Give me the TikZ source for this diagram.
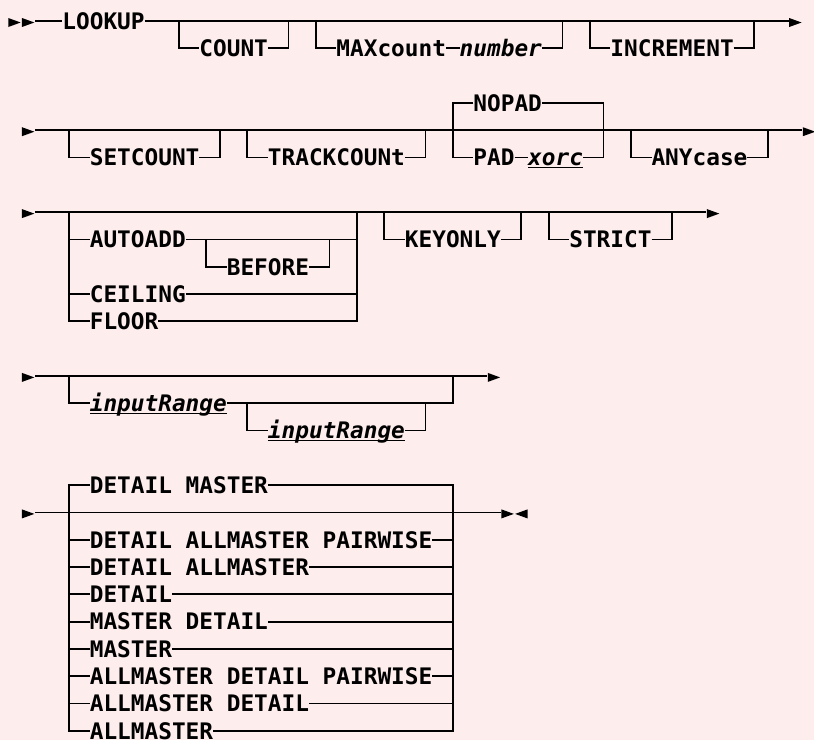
\documentclass[tikz,border=0pt]{standalone}
\usepackage{fontspec}
\setmonofont{DejaVu Sans Mono}
\usepackage{tikz}
\definecolor{bgpink}{RGB}{253,237,237}
\newcommand\dfltval[1]{\setbox0\hbox{#1}\rlap{\rule[-2.6pt]{\wd0}{1.5pt}}\box0}

\begin{document}
\begin{tikzpicture}[x=13.7pt, y=-27.3pt,
  kw/.style={anchor=west, inner sep=0pt, outer sep=0pt, text height=17.6pt, text depth=1pt,
    font=\ttfamily\bfseries\fontsize{22.76pt}{27.3pt}\selectfont},
  var/.style={kw, font=\ttfamily\bfseries\itshape\fontsize{22.76pt}{27.3pt}\selectfont},
  rail/.style={line width=1.8pt, line join=miter},
  rtri/.pic={\fill (-6.2pt,3pt) -- (6.2pt,-1.5pt) -- (-6.2pt,-6pt) -- cycle;},
  ltri/.pic={\fill (6.2pt,3pt) -- (-6.2pt,-1.5pt) -- (6.2pt,-6pt) -- cycle;}
]
  \useasboundingbox (-7.6pt,21pt) rectangle (806.4pt,-719pt);
  \fill[bgpink] (-7.6pt,21pt) rectangle (806.4pt,-719pt);

  % LOOKUP line
  \pic at (0.5,0) {rtri}; \pic at (1.5,0) {rtri};
  \node[kw] (lookup) at (4,0) {LOOKUP};
  \draw[rail] (2,0) -- (lookup) -- (57,0);
  \pic at (57.5,0) {rtri};
  \node[kw] (count) at (14,1) {COUNT};
  \draw[rail] (12.5,0) |- (count) -| (20.5,0);
  \node[kw] (maxc) at (24,1) {MAXcount};
  \node[var] (number) at (33,1) {number};
  \draw[rail] (22.5,0) |- (maxc) -- (number) -| (40.5,0);
  \node[kw] (incr) at (44,1) {INCREMENT};
  \draw[rail] (42.5,0) |- (incr) -| (54.5,0);

  % SETCOUNT line
  \pic at (1.5,4) {rtri};
  \draw[rail] (2,4) -- (58,4);
  \pic at (58.5,4) {rtri};
  \node[kw] (setcount) at (6,5) {SETCOUNT};
  \draw[rail] (4.5,4) |- (setcount) -| (15.5,4);
  \node[kw] (trackcount) at (19,5) {TRACKCOUNt};
  \draw[rail] (17.5,4) |- (trackcount) -| (30.5,4);
  \node[kw] (nopad) at (34,3) {NOPAD};
  \node[kw] (pad) at (34,5) {PAD};
  \node[var] (xorc) at (38,5) {\dfltval{xorc}};
  \draw[rail] (nopad) -| (32.5,5) -- (pad) -- (xorc) -| (43.5,3) -- (nopad);
  \node[kw] (anycase) at (47,5) {ANYcase};
  \draw[rail] (45.5,4) |- (anycase) -| (55.5,4);

  % AUTOADD line
  \pic at (1.5,7) {rtri};
  \draw[rail] (2,7) -- (51,7);
  \pic at (51.5,7) {rtri};
  \node[kw] (autoadd) at (6,8) {AUTOADD};
  \node[kw] (before) at (16,9) {BEFORE};
  \node[kw] (ceiling) at (6,10) {CEILING};
  \node[kw] (floor) at (6,11) {FLOOR};
  \draw[rail] (4.5,7) |- (floor) -| (25.5,7);
  \draw[rail] (4.5,8) -- (autoadd) -- (25.5,8);
  \draw[rail] (4.5,10) -- (ceiling) -- (25.5,10);
  \draw[rail] (14.5,8) |- (before) -| (23.5,8);
  \node[kw] (keyonly) at (29,8) {KEYONLY};
  \draw[rail] (27.5,7) |- (keyonly) -| (37.5,7);
  \node[kw] (strict) at (41,8) {STRICT};
  \draw[rail] (39.5,7) |- (strict) -| (48.5,7);

  % inputRange line
  \pic at (1.5,13) {rtri};
  \draw[rail] (2,13) -- (35,13);
  \pic at (35.5,13) {rtri};
  \node[var] (range) at (6,14) {\dfltval{inputRange}};
  \node[var] (range2) at (19,15) {\dfltval{inputRange}};
  \draw[rail] (4.5,13) |- (range) -| (32.5,13);
  \draw[rail] (17.5,14) |- (range2) -| (30.5,14);

  % DETAIL / MASTER line
  \pic at (1.5,18) {rtri};
  \draw[rail] (2,18) -- (36,18);
  \pic at (36.5,18) {rtri}; \pic at (37.5,18) {ltri};
  \node[kw] (dm) at (6,17) {DETAIL MASTER};
  \node[kw] (am) at (6,26) {ALLMASTER};
  \draw[rail] (dm) -| (4.5,26) -- (am) -| (32.5,17) -- (dm);
  \foreach \name/\row/\txt in {dap/19/DETAIL ALLMASTER PAIRWISE, da/20/DETAIL ALLMASTER,
      d/21/DETAIL, md/22/MASTER DETAIL, m/23/MASTER,
      adp/24/ALLMASTER DETAIL PAIRWISE, ad/25/ALLMASTER DETAIL}{
    \node[kw] (\name) at (6,\row) {\txt};
    \draw[rail] (4.5,\row) -- (\name) -- (32.5,\row);
  }
\end{tikzpicture}
\end{document}
